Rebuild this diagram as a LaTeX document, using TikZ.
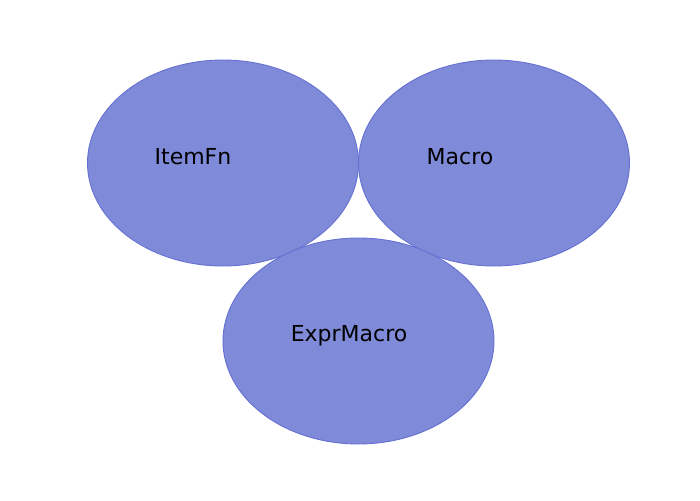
\documentclass[tikz,border=0pt]{standalone}
\usepackage{fontspec}
\setmainfont{DejaVu Sans}
\definecolor{blobfill}{HTML}{7F8AD8}
\definecolor{blobline}{HTML}{6571D2}
\begin{document}
\begin{tikzpicture}[x=1pt,y=-1pt,
  blob/.style={fill=blobfill,draw=blobline,line width=0.9pt},
  lbl/.style={font=\fontsize{22}{25}\selectfont,text=black,inner sep=0pt}]
\useasboundingbox (0,0) rectangle (700,500);
\path[blob] (223,163) ellipse [x radius=135.5,y radius=103];
\path[blob] (494,163) ellipse [x radius=135.5,y radius=103];
\path[blob] (358.5,341) ellipse [x radius=135.5,y radius=103];
\node[lbl] (itemfn) at (193,157) {ItemFn};
\node[lbl] (macro) at (460,157) {Macro};
\node[lbl] (exprmacro) at (349,336) {ExprMacro};
\end{tikzpicture}
\end{document}
